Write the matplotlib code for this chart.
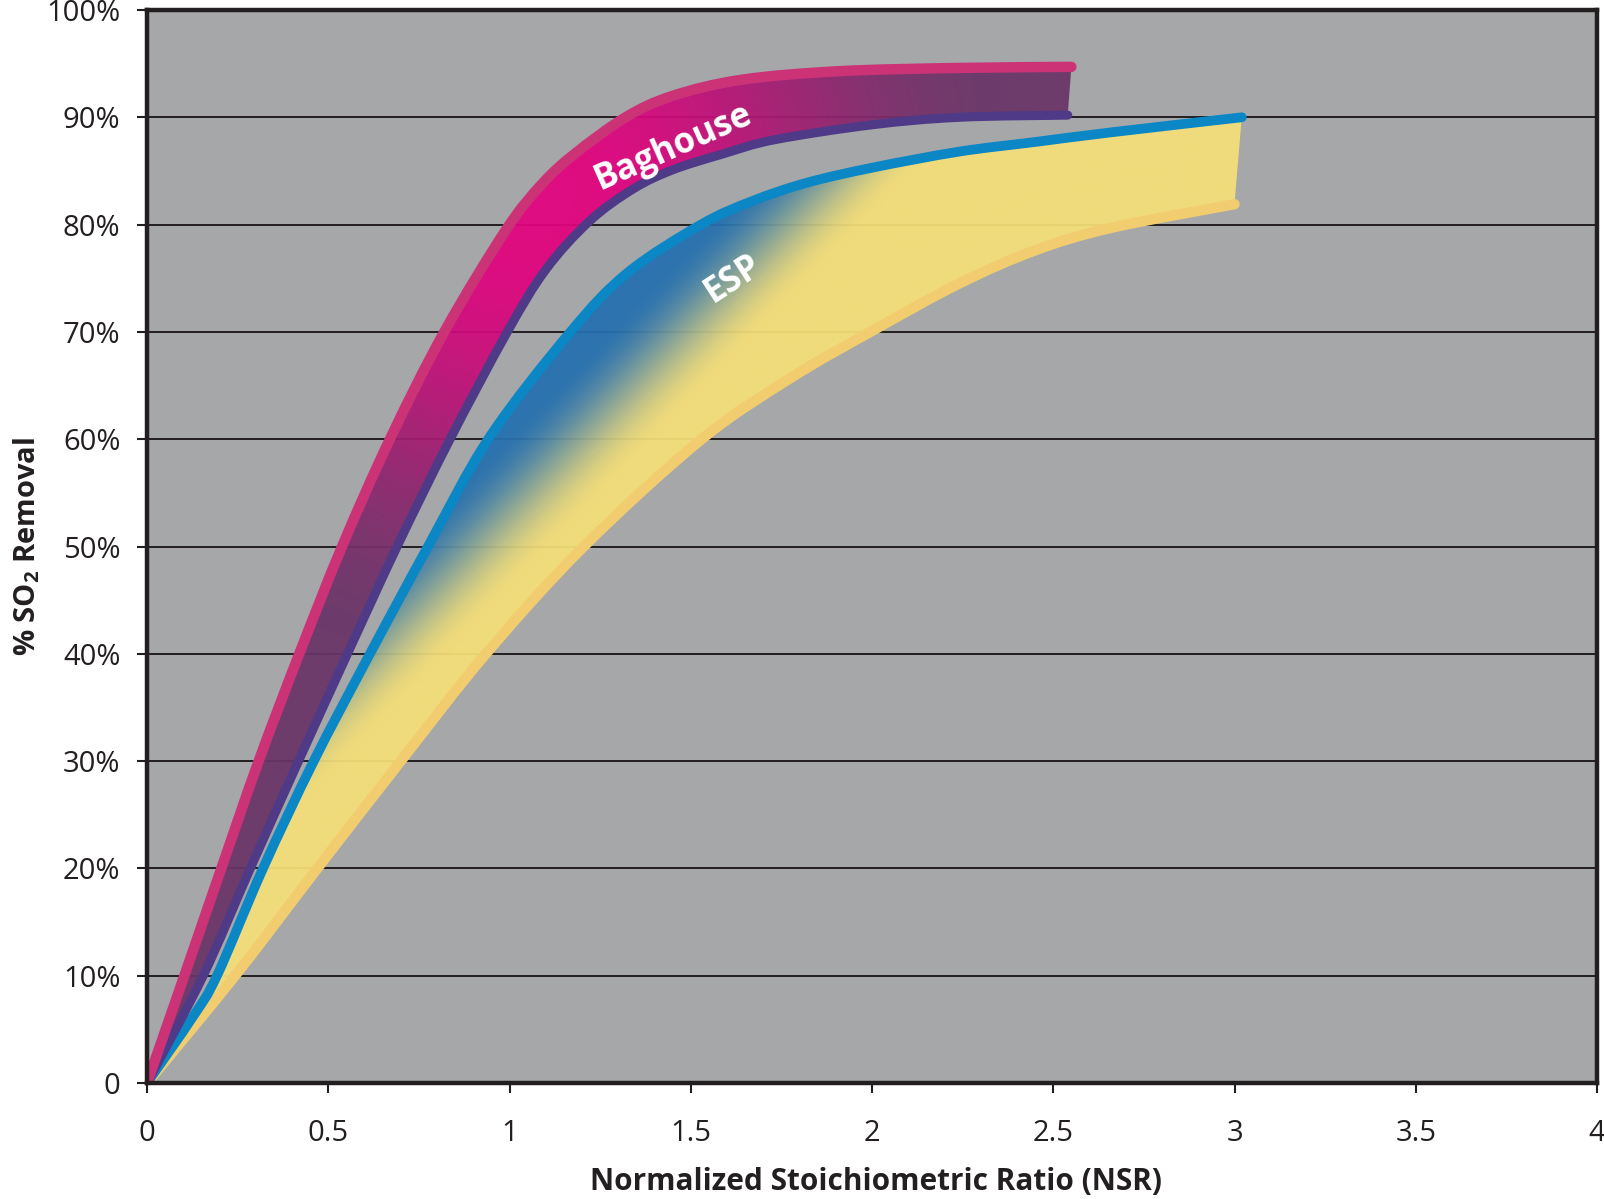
import numpy as np
import matplotlib
matplotlib.use('Agg')
from matplotlib import pyplot as plt
from matplotlib.patches import PathPatch
from matplotlib.path import Path
from matplotlib.colors import to_rgb

plt.rcParams['font.family'] = ['Open Sans', 'DejaVu Sans']
plt.rcParams['mathtext.fontset'] = 'custom'
plt.rcParams['mathtext.rm'] = 'Open Sans'
plt.rcParams['mathtext.bf'] = 'Open Sans:bold'

# Baghouse band: upper and lower bound (NSR, % SO2 removal)
bag_hi_x = [0, 0.103, 0.205, 0.308, 0.42, 0.538, 0.67, 0.82, 0.99, 1.09, 1.18, 1.32, 1.45, 1.64, 1.91, 2.24, 2.55]
bag_hi_y = [0, 10, 20, 30, 40, 50, 60, 70, 79.5, 83.8, 86.6, 90, 92.0, 93.5, 94.3, 94.6, 94.7]
bag_lo_x = [0, 0.155, 0.285, 0.418, 0.553, 0.69, 0.836, 0.994, 1.1, 1.22, 1.34, 1.45, 1.59, 1.73, 2.0, 2.24, 2.54]
bag_lo_y = [0, 10, 20, 30, 40, 50, 60, 70, 75.8, 80.3, 83.3, 85.1, 86.6, 87.9, 89.3, 90.0, 90.2]

# ESP band
esp_hi_x = [0, 0.127, 0.193, 0.32, 0.46, 0.615, 0.775, 0.945, 1.168, 1.325, 1.528, 1.67, 1.82, 2.0, 2.24, 2.45, 2.66, 3.02]
esp_hi_y = [0, 6.2, 10, 20, 30, 40, 50, 60.2, 70, 75.5, 80, 82.2, 83.9, 85.3, 86.8, 87.7, 88.6, 90.0]
esp_lo_x = [0, 0.243, 0.47, 0.70, 0.935, 1.205, 1.53, 1.78, 2.006, 2.24, 2.45, 2.66, 3.0]
esp_lo_y = [0, 10, 20, 30, 40, 50, 60, 65.8, 70.2, 74.5, 77.6, 79.7, 81.9]

x_ticks = [0, 0.5, 1, 1.5, 2, 2.5, 3, 3.5, 4]
x_labels = ['0', '0.5', '1', '1.5', '2', '2.5', '3', '3.5', '4']
y_ticks = list(range(0, 101, 10))
y_labels = ['0'] + ['%d%%' % v for v in y_ticks[1:]]

INK = '#231f20'
PX_X = 362.0   # pixels per NSR unit
PX_Y = 10.73   # pixels per percent
SCALE = np.array([PX_X, PX_Y])


def smooth(xs, ys):
    # smoothed line through the points (Catmull-Rom as cubic Bezier)
    P = np.column_stack([xs, ys]) * SCALE
    n = len(P)
    verts, codes = [P[0]], [Path.MOVETO]
    for i in range(n - 1):
        p0, p1, p2, p3 = P[max(i - 1, 0)], P[i], P[i + 1], P[min(i + 2, n - 1)]
        verts += [p1 + (p2 - p0) / 6, p2 - (p3 - p1) / 6, p2]
        codes += [Path.CURVE4] * 3
    return np.array(verts) / SCALE, codes


def grid_xy():
    gx = np.linspace(0, 3.2, 640)
    gy = np.linspace(0, 100, 700)
    X, Y = np.meshgrid(gx, gy)
    return X * PX_X, Y * PX_Y


def mix(t, c_a, c_b):
    t = np.clip(t, 0, 1)
    t = t * t * (3 - 2 * t)
    return (1 - t)[..., None] * np.array(to_rgb(c_a)) + t[..., None] * np.array(to_rgb(c_b))


def radial_shade(cx, cy, rad, c_in, c_out, lo):
    X, Y = grid_xy()
    r = np.hypot(X - cx * PX_X, Y - cy * PX_Y) / rad
    return mix((r - lo) / (1 - lo), c_in, c_out)


def linear_shade(ax0, ay0, ax1, ay1, width, c_in, c_out):
    # c_in on the upper-left side of the line a0-a1, c_out on the other
    X, Y = grid_xy()
    d = np.array([(ax1 - ax0) * PX_X, (ay1 - ay0) * PX_Y])
    d = d / np.hypot(*d)
    perp = -(X - ax0 * PX_X) * d[1] + (Y - ay0 * PX_Y) * d[0]
    return mix(0.5 - perp / width, c_in, c_out)


def band(ax, hx, hy, lx, ly, img, z):
    hv, hc = smooth(hx, hy)
    lv, lc = smooth(lx, ly)
    verts = np.vstack([hv, lv[::-1], lv[:1]])
    codes = hc + [Path.LINETO] + [Path.CURVE4] * (len(lv) - 1) + [Path.CLOSEPOLY]
    patch = PathPatch(Path(verts, codes), facecolor='none', edgecolor='none')
    ax.add_patch(patch)
    im = ax.imshow(img, extent=(0, 3.2, 0, 100), origin='lower', aspect='auto',
                   interpolation='bilinear', alpha=0.94, zorder=z)
    im.set_clip_path(patch)


def curve(ax, xs, ys, color, lw, z):
    v, c = smooth(xs, ys)
    ax.add_patch(PathPatch(Path(v, c), facecolor='none', edgecolor=color, lw=lw,
                           capstyle='round', joinstyle='round', zorder=z))


fig = plt.figure(figsize=(16.04, 11.99), dpi=100)
ax = fig.add_axes([147 / 1604, (1199 - 1083) / 1199, 1450 / 1604, 1073 / 1199])
ax.set_facecolor('#a6a7a9')

# ESP band and its bounds
band(ax, esp_hi_x, esp_hi_y, esp_lo_x, esp_lo_y,
     linear_shade(0.675, 42, 1.875, 84, 110, '#2570b0', '#f5df78'), 2)
curve(ax, esp_lo_x, esp_lo_y, '#f2cd70', 7.5, 3)
curve(ax, esp_hi_x, esp_hi_y, '#0a87c4', 7, 3.1)

# Baghouse band and its bounds
band(ax, bag_hi_x, bag_hi_y, bag_lo_x, bag_lo_y,
     radial_shade(1.05, 83, 480, '#e2037f', '#6a3567', 0.1), 4)
curve(ax, bag_lo_x, bag_lo_y, '#4e3a87', 6.5, 5)
curve(ax, bag_hi_x, bag_hi_y, '#cc3377', 7.5, 5.1)

ax.text(1.453, 87.2, 'Baghouse', color='white', fontsize=25, fontweight='bold',
        rotation=24, rotation_mode='anchor', ha='center', va='center', zorder=6)
ax.text(1.616, 74.9, 'ESP', color='white', fontsize=25, fontweight='bold',
        rotation=33, rotation_mode='anchor', ha='center', va='center', zorder=6)

ax.set_xlim(0, 4)
ax.set_ylim(0, 100)
ax.set_xticks(x_ticks)
ax.set_xticklabels(x_labels)
ax.set_yticks(y_ticks)
ax.set_yticklabels(y_labels)
ax.grid(axis='y', color=INK, lw=1.4)
ax.set_axisbelow(True)

for s in ax.spines.values():
    s.set_linewidth(3.2)
    s.set_color(INK)
    s.set_zorder(10)

ax.tick_params(direction='out', length=7, width=1.5, color=INK, labelcolor=INK, labelsize=21)
ax.tick_params(axis='x', pad=19)
ax.tick_params(axis='y', pad=12)

ax.set_xlabel('Normalized Stoichiometric Ratio (NSR)', fontsize=21.4, fontweight='bold',
              color=INK, va='baseline')
ax.xaxis.set_label_coords(0.503, -0.0995)
ax.set_ylabel(r'% SO$_\mathbf{2}$ Removal', fontsize=21, fontweight='bold', color=INK, va='baseline')
ax.yaxis.set_label_coords(-0.077, 0.5)

fig.savefig('out.png', dpi=100)
